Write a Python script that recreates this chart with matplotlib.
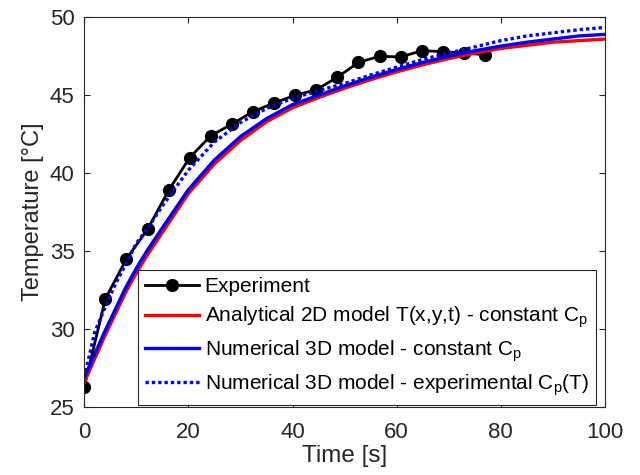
import matplotlib.pyplot as plt

plt.rcParams['font.family'] = ['Liberation Sans', 'DejaVu Sans']
plt.rcParams['mathtext.default'] = 'regular'

# Experimental measurements
t_exp = [0, 4.05, 8.1, 12.15, 16.2, 20.25, 24.3, 28.35, 32.4, 36.45,
         40.5, 44.55, 48.6, 52.65, 56.7, 60.75, 64.8, 68.85, 72.9, 76.95]
T_exp = [26.3, 31.95, 34.5, 36.4, 38.9, 41.0, 42.4, 43.15, 43.95, 44.5,
         45.0, 45.35, 46.15, 47.1, 47.5, 47.45, 47.85, 47.8, 47.7, 47.6]

# Model curves
t_mod = [0, 2, 4, 6, 8, 10, 12, 15, 20, 25, 30, 35, 40, 45, 50,
         55, 60, 65, 70, 75, 80, 85, 90, 95, 100]
T_analytical = [26.6, 28.1, 29.6, 31.0, 32.4, 33.6, 34.7, 36.2, 38.7, 40.6,
                42.1, 43.3, 44.2, 44.85, 45.45, 46.0, 46.5, 46.95, 47.35, 47.7,
                48.0, 48.2, 48.4, 48.5, 48.6]
T_num_const = [26.9, 28.4, 29.9, 31.3, 32.7, 33.9, 35.0, 36.5, 38.95, 40.85,
               42.35, 43.5, 44.4, 45.0, 45.6, 46.15, 46.65, 47.1, 47.5, 47.85,
               48.15, 48.4, 48.6, 48.8, 48.9]
T_num_exp = [26.9, 29.8, 31.4, 32.9, 34.2, 35.5, 36.4, 37.9, 40.2, 42.0,
             43.25, 44.15, 44.8, 45.3, 45.75, 46.3, 46.8, 47.3, 47.7, 48.1,
             48.5, 48.8, 49.0, 49.2, 49.35]

fig = plt.figure(figsize=(6.4, 4.75), dpi=100)
ax = fig.add_axes([0.1317, 0.143, 0.8136, 0.8207])

ax.plot(t_exp, T_exp, '-o', color='black', lw=2, markersize=8.5,
        label='Experiment')
ax.plot(t_mod, T_analytical, color='red', lw=2.4,
        label='Analytical 2D model T(x,y,t) - constant C$_p$')
ax.plot(t_mod, T_num_const, color='blue', lw=2.4,
        label='Numerical 3D model - constant C$_p$')
ax.plot(t_mod, T_num_exp, color='blue', lw=2.4, linestyle=(0, (1, 0.9)),
        label='Numerical 3D model - experimental C$_p$(T)')

ax.set_xlim(0, 100)
ax.set_ylim(25, 50)
ax.set_xticks([0, 20, 40, 60, 80, 100])
ax.set_yticks([25, 30, 35, 40, 45, 50])
ax.tick_params(direction='in', length=4, width=0.8, top=True, right=True,
               labelsize=16, colors='#262626')
ax.tick_params(axis='x', pad=11)
ax.tick_params(axis='y', pad=7)
for s in ax.spines.values():
    s.set_color('#262626')
    s.set_linewidth(0.8)

ax.set_xlabel('Time [s]', fontsize=17.5, color='#262626', labelpad=1)
ax.set_ylabel('Temperature [°C]', fontsize=17, color='#262626', labelpad=4)

leg = ax.legend(loc='lower right', bbox_to_anchor=(0.983, 0.005),
                borderaxespad=0, fontsize=15, frameon=True, fancybox=False,
                edgecolor='#262626', framealpha=1, handlelength=2.6,
                handletextpad=0.25, labelspacing=0.4, borderpad=0.35)
leg.get_frame().set_linewidth(0.8)

fig.savefig('out.png', dpi=100)
